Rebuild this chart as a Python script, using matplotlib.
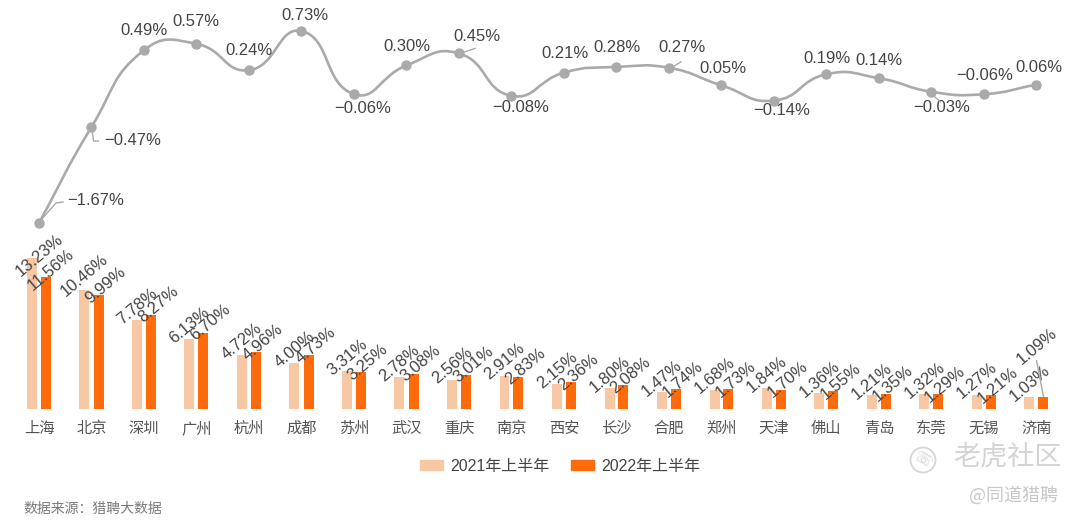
import numpy as np
import matplotlib
matplotlib.use('Agg')
import matplotlib.pyplot as plt
from matplotlib.path import Path
from matplotlib.patches import PathPatch, Patch, Circle
from matplotlib.lines import Line2D
from matplotlib.transforms import IdentityTransform

plt.rcParams['font.family'] = ['Liberation Sans', 'Noto Sans CJK SC', 'DejaVu Sans']

# ---------------- data ----------------
cities = ['上海', '北京', '深圳', '广州', '杭州', '成都', '苏州', '武汉', '重庆', '南京',
          '西安', '长沙', '合肥', '郑州', '天津', '佛山', '青岛', '东莞', '无锡', '济南']
share_2021 = [13.23, 10.46, 7.78, 6.13, 4.72, 4.00, 3.31, 2.78, 2.56, 2.91,
              2.15, 1.80, 1.47, 1.68, 1.84, 1.36, 1.21, 1.32, 1.27, 1.03]
share_2022 = [11.56, 9.99, 8.27, 6.70, 4.96, 4.73, 3.25, 3.08, 3.01, 2.83,
              2.36, 2.08, 1.74, 1.73, 1.70, 1.55, 1.35, 1.29, 1.21, 1.09]
change = [-1.67, -0.47, 0.49, 0.57, 0.24, 0.73, -0.06, 0.30, 0.45, -0.08,
          0.21, 0.28, 0.27, 0.05, -0.14, 0.19, 0.14, -0.03, -0.06, 0.06]
series_names = ['2021年上半年', '2022年上半年']
source_text = '数据来源：猎聘大数据'

# ---------------- layout / style ----------------
W, H = 1080, 520
PX_CAT = 52.5      # px per category
X0 = 39            # px centre of first category
BASE = 409         # px (from top) of bar baseline
PX_BAR = 11.4      # px per percent (bars)
ZERO_LINE = 89.4   # px (from top) of 0 on line axis
PX_LINE = 80       # px per percent (line)

c2021 = '#F8C7A3'
c2022 = '#FF6A0A'
cline = '#AAAAAA'
ctext = '#444444'

# label offsets (px, y down) relative to line points
line_lab_off = [(57, -22), (41, 14), (0, -20), (-1, -22), (0, -20), (3, -15), (9, 14),
                (0, -19), (18, -17), (9, 12), (1, -19), (1, -19), (13, -20), (1, -17),
                (8, 10), (1, -16), (0, -18), (10, 16), (1, -19), (2, -17)]
leaders = {0: [(2, -3), (17, -20), (24, -21)],
           1: [(1, 5), (2, 14), (7, 14)],
           8: [(4, -1), (16, -5)],
           12: [(4, -1), (12, -6)],
           17: [(2, 4), (9, 10)]}
# bar label offsets (px, y up)
bar_off_2021 = {0: (7, 3)}
bar_off_2022 = {0: (5, 7), 19: (-7, 50)}
default_2021 = (0, 14)
default_2022 = (7, 10)

fig = plt.figure(figsize=(W / 100, H / 100), dpi=100)
ax = fig.add_axes([0, (H - BASE) / H, 1, BASE / H])
ax.set_xlim(-X0 / PX_CAT, (W - X0) / PX_CAT)
ax.set_ylim(0, BASE / PX_BAR)
ax2 = ax.twinx()
ax2.set_ylim((ZERO_LINE - BASE) / PX_LINE, ZERO_LINE / PX_LINE)

for a in (ax, ax2):
    for s in a.spines.values():
        s.set_visible(False)
    a.set_yticks([])

x = np.arange(len(cities))
bw = 10 / PX_CAT
off = 7 / PX_CAT
ax.bar(x - off, share_2021, width=bw, color=c2021, zorder=2)
ax.bar(x + off, share_2022, width=bw, color=c2022, zorder=2)

ax.set_xticks(x)
ax.set_xticklabels(cities, fontsize=11, color='#555555')
ax.tick_params(axis='x', length=0, pad=9)

def fmt(v):
    s = f'{abs(v):.2f}%'
    return ('\u2212' + s) if v < 0 else s

# bar labels
for i in range(len(cities)):
    ax.annotate(fmt(share_2021[i]), (x[i] - off, share_2021[i]),
                xytext=bar_off_2021.get(i, default_2021),
                textcoords='offset pixels', ha='center', va='center', rotation=40,
                fontsize=12, color=ctext, zorder=5)
    ax.annotate(fmt(share_2022[i]), (x[i] + off, share_2022[i]),
                xytext=bar_off_2022.get(i, default_2022),
                textcoords='offset pixels', ha='center', va='center', rotation=40,
                fontsize=12, color=ctext, zorder=5)

# leader for last 2022 bar label
p = ax.transData.transform((x[-1] + off, share_2022[-1]))
fig.add_artist(Line2D([p[0], p[0] - 7], [p[1], p[1] + 36], color=cline, lw=1,
                      transform=IdentityTransform()))

# smooth line (echarts-like bezier smoothing)
def smooth_path(xs, ys, smooth=0.5):
    pts = np.column_stack([xs, ys]).astype(float)
    scale = np.array([PX_CAT, PX_LINE])
    n = len(pts)
    verts = [pts[0]]
    codes = [Path.MOVETO]
    cp_next = pts[0] + (pts[1] - pts[0]) * smooth
    for i in range(1, n):
        cur = pts[i]
        prev = pts[i - 1]
        if i < n - 1:
            nxt = pts[i + 1]
            v = nxt - prev
            d0 = np.hypot(*((cur - prev) * scale))
            d1 = np.hypot(*((nxt - cur) * scale))
            r = d1 / (d0 + d1)
            cp1 = cur - v * smooth * (1 - r)
            new_next = cur + v * smooth * r
        else:
            cp1 = cur - (cur - prev) * smooth
            new_next = cur
        verts += [cp_next, cp1, cur]
        codes += [Path.CURVE4] * 3
        cp_next = new_next
    return Path(verts, codes)

ax2.add_patch(PathPatch(smooth_path(x, change), facecolor='none', edgecolor=cline,
                        lw=1.9, zorder=3))
ax2.plot(x, change, 'o', ms=6.5, color=cline, zorder=4)

for i, v in enumerate(change):
    dx, dy = line_lab_off[i]
    ax2.annotate(fmt(v), (x[i], v), xytext=(dx, -dy), textcoords='offset pixels',
                 ha='center', va='center', fontsize=12, color=ctext, zorder=5)
    if i in leaders:
        p = ax2.transData.transform((x[i], v))
        xs = [p[0] + a for a, b in leaders[i]]
        ys = [p[1] - b for a, b in leaders[i]]
        fig.add_artist(Line2D(xs, ys, color=cline, lw=1, transform=IdentityTransform()))

# legend
handles = [Patch(color=c2021), Patch(color=c2022)]
fig.legend(handles, series_names, loc='center', bbox_to_anchor=(560 / W, 1 - 466 / H),
           ncol=2, frameon=False, fontsize=11.5, handlelength=1.45, handleheight=0.6,
           handletextpad=0.45, columnspacing=1.35, labelcolor='#444444')

# source
fig.text(23 / W, 1 - 509 / H, source_text, fontsize=10, color='#7a7a7a',
         ha='left', va='center', family=['Noto Sans CJK SC', 'DejaVu Sans'])

# watermark
fig.add_artist(Circle((923, H - 460), 12.5, transform=IdentityTransform(),
                      fill=False, ec='#d6d6d6', lw=1.3))
fig.text(923 / W, 1 - 460 / H, '\u260f', fontsize=11, color='#d0d0d0', rotation=-30,
         ha='center', va='center', family=['DejaVu Sans'])
fig.text(1007 / W, 1 - 457 / H, '老虎社区', fontsize=19.5, color='#d4d4d4',
         ha='center', va='center', family=['Noto Sans CJK SC', 'DejaVu Sans'])
fig.text(1013 / W, 1 - 495 / H, '@同道猎聘', fontsize=13, color='#c8c8c8',
         ha='center', va='center', family=['Noto Sans CJK SC', 'DejaVu Sans'])

fig.savefig('out.png', dpi=100)
